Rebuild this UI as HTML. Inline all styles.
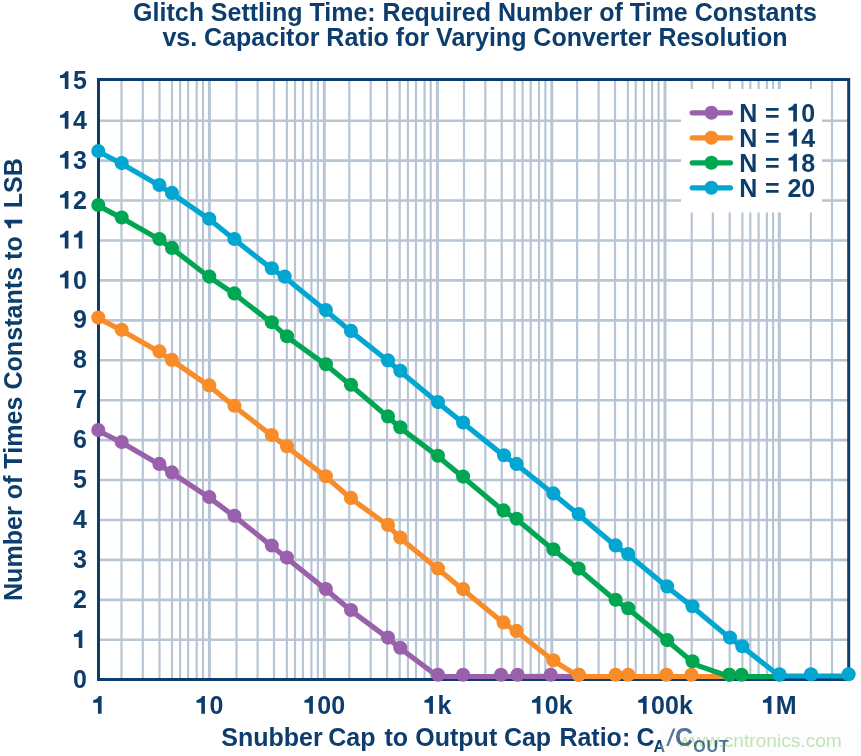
<!DOCTYPE html><html><head><meta charset="utf-8"><style>
html,body{margin:0;padding:0;background:#fff;overflow:hidden;}
svg{display:block;will-change:transform;}
text{font-family:"Liberation Sans",sans-serif;font-weight:bold;fill:#0d3d6c;}
.o{fill:none;} .nk{font-kerning:none;}
</style></head><body>
<svg width="861" height="756" viewBox="0 0 861 756">
<rect width="861" height="756" fill="#fff"/>
<g stroke="#b7c5d4"><line x1="98.5" y1="639.77" x2="848.7" y2="639.77" stroke-width="2.6"/><line x1="98.5" y1="599.84" x2="848.7" y2="599.84" stroke-width="2.6"/><line x1="98.5" y1="559.91" x2="848.7" y2="559.91" stroke-width="2.6"/><line x1="98.5" y1="519.98" x2="848.7" y2="519.98" stroke-width="2.6"/><line x1="98.5" y1="480.05" x2="848.7" y2="480.05" stroke-width="2.6"/><line x1="98.5" y1="440.12" x2="848.7" y2="440.12" stroke-width="2.6"/><line x1="98.5" y1="400.19" x2="848.7" y2="400.19" stroke-width="2.6"/><line x1="98.5" y1="360.26" x2="848.7" y2="360.26" stroke-width="2.6"/><line x1="98.5" y1="320.33" x2="848.7" y2="320.33" stroke-width="2.6"/><line x1="98.5" y1="280.40" x2="848.7" y2="280.40" stroke-width="2.6"/><line x1="98.5" y1="240.47" x2="848.7" y2="240.47" stroke-width="2.6"/><line x1="98.5" y1="200.54" x2="848.7" y2="200.54" stroke-width="2.6"/><line x1="98.5" y1="160.61" x2="848.7" y2="160.61" stroke-width="2.6"/><line x1="98.5" y1="120.68" x2="848.7" y2="120.68" stroke-width="2.6"/><line x1="121.50" y1="79.5" x2="121.50" y2="679.5" stroke-width="2.2"/><line x1="142.80" y1="79.5" x2="142.80" y2="679.5" stroke-width="2.2"/><line x1="159.50" y1="79.5" x2="159.50" y2="679.5" stroke-width="2.2"/><line x1="172.00" y1="79.5" x2="172.00" y2="679.5" stroke-width="2.2"/><line x1="180.10" y1="79.5" x2="180.10" y2="679.5" stroke-width="2.2"/><line x1="188.10" y1="79.5" x2="188.10" y2="679.5" stroke-width="2.2"/><line x1="196.70" y1="79.5" x2="196.70" y2="679.5" stroke-width="2.2"/><line x1="203.00" y1="79.5" x2="203.00" y2="679.5" stroke-width="2.2"/><line x1="236.50" y1="79.5" x2="236.50" y2="679.5" stroke-width="2.2"/><line x1="257.60" y1="79.5" x2="257.60" y2="679.5" stroke-width="2.2"/><line x1="274.00" y1="79.5" x2="274.00" y2="679.5" stroke-width="2.2"/><line x1="286.90" y1="79.5" x2="286.90" y2="679.5" stroke-width="2.2"/><line x1="295.00" y1="79.5" x2="295.00" y2="679.5" stroke-width="2.2"/><line x1="302.90" y1="79.5" x2="302.90" y2="679.5" stroke-width="2.2"/><line x1="311.40" y1="79.5" x2="311.40" y2="679.5" stroke-width="2.2"/><line x1="317.90" y1="79.5" x2="317.90" y2="679.5" stroke-width="2.2"/><line x1="349.30" y1="79.5" x2="349.30" y2="679.5" stroke-width="2.2"/><line x1="370.70" y1="79.5" x2="370.70" y2="679.5" stroke-width="2.2"/><line x1="387.10" y1="79.5" x2="387.10" y2="679.5" stroke-width="2.2"/><line x1="399.70" y1="79.5" x2="399.70" y2="679.5" stroke-width="2.2"/><line x1="407.90" y1="79.5" x2="407.90" y2="679.5" stroke-width="2.2"/><line x1="416.00" y1="79.5" x2="416.00" y2="679.5" stroke-width="2.2"/><line x1="424.60" y1="79.5" x2="424.60" y2="679.5" stroke-width="2.2"/><line x1="430.70" y1="79.5" x2="430.70" y2="679.5" stroke-width="2.2"/><line x1="464.00" y1="79.5" x2="464.00" y2="679.5" stroke-width="2.2"/><line x1="485.30" y1="79.5" x2="485.30" y2="679.5" stroke-width="2.2"/><line x1="501.70" y1="79.5" x2="501.70" y2="679.5" stroke-width="2.2"/><line x1="514.60" y1="79.5" x2="514.60" y2="679.5" stroke-width="2.2"/><line x1="522.60" y1="79.5" x2="522.60" y2="679.5" stroke-width="2.2"/><line x1="530.70" y1="79.5" x2="530.70" y2="679.5" stroke-width="2.2"/><line x1="539.00" y1="79.5" x2="539.00" y2="679.5" stroke-width="2.2"/><line x1="545.40" y1="79.5" x2="545.40" y2="679.5" stroke-width="2.2"/><line x1="577.10" y1="79.5" x2="577.10" y2="679.5" stroke-width="2.2"/><line x1="598.60" y1="79.5" x2="598.60" y2="679.5" stroke-width="2.2"/><line x1="615.00" y1="79.5" x2="615.00" y2="679.5" stroke-width="2.2"/><line x1="627.90" y1="79.5" x2="627.90" y2="679.5" stroke-width="2.2"/><line x1="635.70" y1="79.5" x2="635.70" y2="679.5" stroke-width="2.2"/><line x1="643.90" y1="79.5" x2="643.90" y2="679.5" stroke-width="2.2"/><line x1="652.10" y1="79.5" x2="652.10" y2="679.5" stroke-width="2.2"/><line x1="658.60" y1="79.5" x2="658.60" y2="679.5" stroke-width="2.2"/><line x1="691.70" y1="79.5" x2="691.70" y2="679.5" stroke-width="2.2"/><line x1="712.90" y1="79.5" x2="712.90" y2="679.5" stroke-width="2.2"/><line x1="729.70" y1="79.5" x2="729.70" y2="679.5" stroke-width="2.2"/><line x1="742.40" y1="79.5" x2="742.40" y2="679.5" stroke-width="2.2"/><line x1="750.30" y1="79.5" x2="750.30" y2="679.5" stroke-width="2.2"/><line x1="758.60" y1="79.5" x2="758.60" y2="679.5" stroke-width="2.2"/><line x1="766.90" y1="79.5" x2="766.90" y2="679.5" stroke-width="2.2"/><line x1="773.10" y1="79.5" x2="773.10" y2="679.5" stroke-width="2.2"/><line x1="810.90" y1="79.5" x2="810.90" y2="679.5" stroke-width="2.2"/><line x1="832.00" y1="79.5" x2="832.00" y2="679.5" stroke-width="2.2"/><line x1="209.40" y1="79.5" x2="209.40" y2="679.5" stroke-width="3"/><line x1="324.30" y1="79.5" x2="324.30" y2="679.5" stroke-width="3"/><line x1="437.40" y1="79.5" x2="437.40" y2="679.5" stroke-width="3"/><line x1="551.80" y1="79.5" x2="551.80" y2="679.5" stroke-width="3"/><line x1="665.00" y1="79.5" x2="665.00" y2="679.5" stroke-width="3"/><line x1="779.30" y1="79.5" x2="779.30" y2="679.5" stroke-width="3"/></g>
<rect x="681" y="89" width="141" height="123.5" fill="#fff"/>
<rect x="98.5" y="79.5" width="750.2" height="600.0" fill="none" stroke="#0d3d6c" stroke-width="3"/>
<polyline points="98.30,430.70 121.70,442.60 159.40,464.50 172.00,473.00 209.30,497.60 234.40,516.40 271.80,546.10 286.90,558.20 325.90,589.60 351.00,610.60 388.00,638.20 400.30,648.40 438.00,676.50 463.10,676.50 501.00,676.50 517.50,676.50 550.70,676.40 578.70,676.50" fill="none" stroke="#9960ab" stroke-width="5.2" stroke-linejoin="round" stroke-linecap="round"/><circle cx="98.30" cy="430.10" r="7.05" fill="#9960ab"/><circle cx="121.70" cy="442.00" r="7.05" fill="#9960ab"/><circle cx="159.40" cy="463.90" r="7.05" fill="#9960ab"/><circle cx="172.00" cy="472.40" r="7.05" fill="#9960ab"/><circle cx="209.30" cy="497.00" r="7.05" fill="#9960ab"/><circle cx="234.40" cy="515.80" r="7.05" fill="#9960ab"/><circle cx="271.80" cy="545.50" r="7.05" fill="#9960ab"/><circle cx="286.90" cy="557.60" r="7.05" fill="#9960ab"/><circle cx="325.90" cy="589.00" r="7.05" fill="#9960ab"/><circle cx="351.00" cy="610.00" r="7.05" fill="#9960ab"/><circle cx="388.00" cy="637.60" r="7.05" fill="#9960ab"/><circle cx="400.30" cy="647.80" r="7.05" fill="#9960ab"/><circle cx="438.00" cy="674.80" r="7.05" fill="#9960ab"/><circle cx="463.10" cy="674.80" r="7.05" fill="#9960ab"/><circle cx="501.00" cy="674.80" r="7.05" fill="#9960ab"/><circle cx="517.50" cy="674.80" r="7.05" fill="#9960ab"/><circle cx="550.70" cy="674.70" r="7.05" fill="#9960ab"/><circle cx="578.70" cy="674.80" r="7.05" fill="#9960ab"/>
<polyline points="98.30,318.20 121.70,330.40 159.40,352.00 172.00,360.50 209.30,386.00 234.40,406.40 271.80,435.60 287.00,446.90 325.90,476.90 351.00,498.50 388.00,525.50 400.30,538.20 438.00,569.00 463.10,589.70 503.50,623.00 516.60,631.50 553.40,660.80 578.70,676.50 615.60,676.50 628.20,676.50 666.40,676.50 691.40,676.50 729.30,676.50" fill="none" stroke="#f78c29" stroke-width="5.2" stroke-linejoin="round" stroke-linecap="round"/><circle cx="98.30" cy="317.60" r="7.05" fill="#f78c29"/><circle cx="121.70" cy="329.80" r="7.05" fill="#f78c29"/><circle cx="159.40" cy="351.40" r="7.05" fill="#f78c29"/><circle cx="172.00" cy="359.90" r="7.05" fill="#f78c29"/><circle cx="209.30" cy="385.40" r="7.05" fill="#f78c29"/><circle cx="234.40" cy="405.80" r="7.05" fill="#f78c29"/><circle cx="271.80" cy="435.00" r="7.05" fill="#f78c29"/><circle cx="287.00" cy="446.30" r="7.05" fill="#f78c29"/><circle cx="325.90" cy="476.30" r="7.05" fill="#f78c29"/><circle cx="351.00" cy="497.90" r="7.05" fill="#f78c29"/><circle cx="388.00" cy="524.90" r="7.05" fill="#f78c29"/><circle cx="400.30" cy="537.60" r="7.05" fill="#f78c29"/><circle cx="438.00" cy="568.40" r="7.05" fill="#f78c29"/><circle cx="463.10" cy="589.10" r="7.05" fill="#f78c29"/><circle cx="503.50" cy="622.40" r="7.05" fill="#f78c29"/><circle cx="516.60" cy="630.90" r="7.05" fill="#f78c29"/><circle cx="553.40" cy="660.20" r="7.05" fill="#f78c29"/><circle cx="578.70" cy="674.80" r="7.05" fill="#f78c29"/><circle cx="615.60" cy="674.80" r="7.05" fill="#f78c29"/><circle cx="628.20" cy="674.80" r="7.05" fill="#f78c29"/><circle cx="666.40" cy="674.80" r="7.05" fill="#f78c29"/><circle cx="691.40" cy="674.80" r="7.05" fill="#f78c29"/><circle cx="729.30" cy="674.80" r="7.05" fill="#f78c29"/>
<polyline points="98.30,205.60 121.70,218.10 159.40,239.60 172.00,248.50 209.30,277.20 234.40,294.00 271.80,322.90 287.00,336.80 325.90,364.80 351.00,385.40 388.00,417.00 400.30,427.90 438.00,456.40 463.10,477.20 503.50,511.00 516.60,519.30 553.40,549.90 578.70,569.20 615.60,600.40 628.20,608.80 667.20,640.70 692.50,661.90 698.60,665.90 729.30,676.50 741.60,676.50 779.40,676.50" fill="none" stroke="#00a651" stroke-width="5.2" stroke-linejoin="round" stroke-linecap="round"/><circle cx="98.30" cy="205.00" r="7.05" fill="#00a651"/><circle cx="121.70" cy="217.50" r="7.05" fill="#00a651"/><circle cx="159.40" cy="239.00" r="7.05" fill="#00a651"/><circle cx="172.00" cy="247.90" r="7.05" fill="#00a651"/><circle cx="209.30" cy="276.60" r="7.05" fill="#00a651"/><circle cx="234.40" cy="293.40" r="7.05" fill="#00a651"/><circle cx="271.80" cy="322.30" r="7.05" fill="#00a651"/><circle cx="287.00" cy="336.20" r="7.05" fill="#00a651"/><circle cx="325.90" cy="364.20" r="7.05" fill="#00a651"/><circle cx="351.00" cy="384.80" r="7.05" fill="#00a651"/><circle cx="388.00" cy="416.40" r="7.05" fill="#00a651"/><circle cx="400.30" cy="427.30" r="7.05" fill="#00a651"/><circle cx="438.00" cy="455.80" r="7.05" fill="#00a651"/><circle cx="463.10" cy="476.60" r="7.05" fill="#00a651"/><circle cx="503.50" cy="510.40" r="7.05" fill="#00a651"/><circle cx="516.60" cy="518.70" r="7.05" fill="#00a651"/><circle cx="553.40" cy="549.30" r="7.05" fill="#00a651"/><circle cx="578.70" cy="568.60" r="7.05" fill="#00a651"/><circle cx="615.60" cy="599.80" r="7.05" fill="#00a651"/><circle cx="628.20" cy="608.20" r="7.05" fill="#00a651"/><circle cx="667.20" cy="640.10" r="7.05" fill="#00a651"/><circle cx="692.50" cy="661.30" r="7.05" fill="#00a651"/><circle cx="729.30" cy="674.80" r="7.05" fill="#00a651"/><circle cx="741.60" cy="674.80" r="7.05" fill="#00a651"/><circle cx="779.40" cy="674.80" r="7.05" fill="#00a651"/>
<polyline points="98.30,151.55 121.70,163.70 159.40,185.60 172.00,193.50 209.30,219.30 234.40,239.60 271.80,268.90 284.70,277.20 325.90,310.70 351.00,331.50 388.00,361.00 400.30,371.40 438.00,402.70 463.10,423.10 504.00,455.90 516.60,464.50 553.40,494.00 578.70,514.70 615.60,546.00 628.20,554.70 667.20,587.00 692.50,606.90 730.00,638.20 742.30,646.80 779.40,676.00 811.00,676.00 848.60,676.00" fill="none" stroke="#03a5d1" stroke-width="5.2" stroke-linejoin="round" stroke-linecap="round"/><circle cx="98.30" cy="150.95" r="7.05" fill="#03a5d1"/><circle cx="121.70" cy="163.10" r="7.05" fill="#03a5d1"/><circle cx="159.40" cy="185.00" r="7.05" fill="#03a5d1"/><circle cx="172.00" cy="192.90" r="7.05" fill="#03a5d1"/><circle cx="209.30" cy="218.70" r="7.05" fill="#03a5d1"/><circle cx="234.40" cy="239.00" r="7.05" fill="#03a5d1"/><circle cx="271.80" cy="268.30" r="7.05" fill="#03a5d1"/><circle cx="284.70" cy="276.60" r="7.05" fill="#03a5d1"/><circle cx="325.90" cy="310.10" r="7.05" fill="#03a5d1"/><circle cx="351.00" cy="330.90" r="7.05" fill="#03a5d1"/><circle cx="388.00" cy="360.40" r="7.05" fill="#03a5d1"/><circle cx="400.30" cy="370.80" r="7.05" fill="#03a5d1"/><circle cx="438.00" cy="402.10" r="7.05" fill="#03a5d1"/><circle cx="463.10" cy="422.50" r="7.05" fill="#03a5d1"/><circle cx="504.00" cy="455.30" r="7.05" fill="#03a5d1"/><circle cx="516.60" cy="463.90" r="7.05" fill="#03a5d1"/><circle cx="553.40" cy="493.40" r="7.05" fill="#03a5d1"/><circle cx="578.70" cy="514.10" r="7.05" fill="#03a5d1"/><circle cx="615.60" cy="545.40" r="7.05" fill="#03a5d1"/><circle cx="628.20" cy="554.10" r="7.05" fill="#03a5d1"/><circle cx="667.20" cy="586.40" r="7.05" fill="#03a5d1"/><circle cx="692.50" cy="606.30" r="7.05" fill="#03a5d1"/><circle cx="730.00" cy="637.60" r="7.05" fill="#03a5d1"/><circle cx="742.30" cy="646.20" r="7.05" fill="#03a5d1"/><circle cx="779.40" cy="674.30" r="7.05" fill="#03a5d1"/><circle cx="811.00" cy="674.30" r="7.05" fill="#03a5d1"/><circle cx="848.60" cy="674.30" r="7.05" fill="#03a5d1"/>
<line x1="692.2" y1="112.8" x2="730.5" y2="112.8" stroke="#9960ab" stroke-width="5.2" stroke-linecap="round"/>
<circle cx="711.4" cy="112.8" r="7.0" fill="#9960ab"/>
<text x="739.3" y="121.5" font-size="25" word-spacing="0.8">N = <tspan class="o">1</tspan>0</text>
<line x1="692.2" y1="137.8" x2="730.5" y2="137.8" stroke="#f78c29" stroke-width="5.2" stroke-linecap="round"/>
<circle cx="711.4" cy="137.8" r="7.0" fill="#f78c29"/>
<text x="739.3" y="146.5" font-size="25" word-spacing="0.8">N = <tspan class="o">1</tspan>4</text>
<line x1="692.2" y1="162.8" x2="730.5" y2="162.8" stroke="#00a651" stroke-width="5.2" stroke-linecap="round"/>
<circle cx="711.4" cy="162.8" r="7.0" fill="#00a651"/>
<text x="739.3" y="171.5" font-size="25" word-spacing="0.8">N = <tspan class="o">1</tspan>8</text>
<line x1="692.2" y1="187.8" x2="730.5" y2="187.8" stroke="#03a5d1" stroke-width="5.2" stroke-linecap="round"/>
<circle cx="711.4" cy="187.8" r="7.0" fill="#03a5d1"/>
<text x="739.3" y="196.5" font-size="25" word-spacing="0.8">N = 20</text>
<text class="nk" x="86.8" y="687.85" font-size="25" text-anchor="end">0</text>
<text class="nk" x="86.8" y="647.92" font-size="25" text-anchor="end"><tspan class="o">1</tspan></text>
<text class="nk" x="86.8" y="607.99" font-size="25" text-anchor="end">2</text>
<text class="nk" x="86.8" y="568.06" font-size="25" text-anchor="end">3</text>
<text class="nk" x="86.8" y="528.13" font-size="25" text-anchor="end">4</text>
<text class="nk" x="86.8" y="488.20" font-size="25" text-anchor="end">5</text>
<text class="nk" x="86.8" y="448.27" font-size="25" text-anchor="end">6</text>
<text class="nk" x="86.8" y="408.34" font-size="25" text-anchor="end">7</text>
<text class="nk" x="86.8" y="368.41" font-size="25" text-anchor="end">8</text>
<text class="nk" x="86.8" y="328.48" font-size="25" text-anchor="end">9</text>
<text class="nk" x="86.8" y="288.55" font-size="25" text-anchor="end"><tspan class="o">1</tspan>0</text>
<text class="nk" x="86.8" y="248.62" font-size="25" text-anchor="end"><tspan class="o">1</tspan><tspan class="o">1</tspan></text>
<text class="nk" x="86.8" y="208.69" font-size="25" text-anchor="end"><tspan class="o">1</tspan>2</text>
<text class="nk" x="86.8" y="168.76" font-size="25" text-anchor="end"><tspan class="o">1</tspan>3</text>
<text class="nk" x="86.8" y="128.83" font-size="25" text-anchor="end"><tspan class="o">1</tspan>4</text>
<text class="nk" x="86.8" y="88.90" font-size="25" text-anchor="end"><tspan class="o">1</tspan>5</text>
<text x="99.1" y="713.8" font-size="25" text-anchor="middle"><tspan class="o">1</tspan></text>
<text x="209.4" y="713.8" font-size="25" text-anchor="middle"><tspan class="o">1</tspan>0</text>
<text x="324.3" y="713.8" font-size="25" text-anchor="middle"><tspan class="o">1</tspan>00</text>
<text x="437.4" y="713.8" font-size="25" text-anchor="middle"><tspan class="o">1</tspan>k</text>
<text x="551.8" y="713.8" font-size="25" text-anchor="middle"><tspan class="o">1</tspan>0k</text>
<text x="665.0" y="713.8" font-size="25" text-anchor="middle"><tspan class="o">1</tspan>00k</text>
<text x="779.3" y="713.8" font-size="25" text-anchor="middle"><tspan class="o">1</tspan>M</text>
<text x="475" y="20.7" font-size="25" text-anchor="middle">Glitch Settling Time: Required Number of Time Constants</text>
<text x="475" y="45.7" font-size="25" text-anchor="middle">vs. Capacitor Ratio for Varying Converter Resolution</text>
<g transform="translate(22.2,379.6) rotate(-90)"><text x="0" y="0" font-size="25.1" text-anchor="middle">Number of Times Constants to <tspan class="o">1</tspan> LSB</text><path transform="translate(150.34,0.00) scale(1.004)" d="M5.8 0L9.45 0L9.45 -17.75L6.7 -17.75Q5.9 -14.9 1.0 -13.6L1.0 -11L5.8 -11Z" fill="#0d3d6c"/></g>
<text class="xt" x="221.3" y="745.9" font-size="25">Snubber</text>
<text class="xt" x="328.2" y="745.9" font-size="25">Cap</text>
<text class="xt" x="384.4" y="745.9" font-size="25">to</text>
<text class="xt" x="415.3" y="745.9" font-size="25">Output</text>
<text class="xt" x="503.9" y="745.9" font-size="25">Cap</text>
<text class="xt" x="559.4" y="745.9" font-size="25">Ratio:</text>
<text class="xt" x="636.4" y="745.9" font-size="25">C</text>
<text x="653.6" y="751.5" font-size="16">A</text>
<path d="M666.2 745.9L668.6 745.9L675.4 728.6L673 728.6Z" fill="#0d3d6c"/>
<text x="675" y="745.9" font-size="25">C</text>
<text x="693.2" y="751.5" font-size="16" letter-spacing="0.9">OUT</text>
<path transform="translate(787.46,121.50) scale(1.000)" d="M5.8 0L9.45 0L9.45 -17.75L6.7 -17.75Q5.9 -14.9 1.0 -13.6L1.0 -11L5.8 -11Z" fill="#0d3d6c"/><path transform="translate(787.46,146.50) scale(1.000)" d="M5.8 0L9.45 0L9.45 -17.75L6.7 -17.75Q5.9 -14.9 1.0 -13.6L1.0 -11L5.8 -11Z" fill="#0d3d6c"/><path transform="translate(787.46,171.50) scale(1.000)" d="M5.8 0L9.45 0L9.45 -17.75L6.7 -17.75Q5.9 -14.9 1.0 -13.6L1.0 -11L5.8 -11Z" fill="#0d3d6c"/><path transform="translate(72.89,647.92) scale(1.000)" d="M5.8 0L9.45 0L9.45 -17.75L6.7 -17.75Q5.9 -14.9 1.0 -13.6L1.0 -11L5.8 -11Z" fill="#0d3d6c"/><path transform="translate(58.99,288.55) scale(1.000)" d="M5.8 0L9.45 0L9.45 -17.75L6.7 -17.75Q5.9 -14.9 1.0 -13.6L1.0 -11L5.8 -11Z" fill="#0d3d6c"/><path transform="translate(58.99,248.62) scale(1.000)" d="M5.8 0L9.45 0L9.45 -17.75L6.7 -17.75Q5.9 -14.9 1.0 -13.6L1.0 -11L5.8 -11Z" fill="#0d3d6c"/><path transform="translate(72.89,248.62) scale(1.000)" d="M5.8 0L9.45 0L9.45 -17.75L6.7 -17.75Q5.9 -14.9 1.0 -13.6L1.0 -11L5.8 -11Z" fill="#0d3d6c"/><path transform="translate(58.99,208.69) scale(1.000)" d="M5.8 0L9.45 0L9.45 -17.75L6.7 -17.75Q5.9 -14.9 1.0 -13.6L1.0 -11L5.8 -11Z" fill="#0d3d6c"/><path transform="translate(58.99,168.76) scale(1.000)" d="M5.8 0L9.45 0L9.45 -17.75L6.7 -17.75Q5.9 -14.9 1.0 -13.6L1.0 -11L5.8 -11Z" fill="#0d3d6c"/><path transform="translate(58.99,128.83) scale(1.000)" d="M5.8 0L9.45 0L9.45 -17.75L6.7 -17.75Q5.9 -14.9 1.0 -13.6L1.0 -11L5.8 -11Z" fill="#0d3d6c"/><path transform="translate(58.99,88.90) scale(1.000)" d="M5.8 0L9.45 0L9.45 -17.75L6.7 -17.75Q5.9 -14.9 1.0 -13.6L1.0 -11L5.8 -11Z" fill="#0d3d6c"/><path transform="translate(92.15,713.80) scale(1.000)" d="M5.8 0L9.45 0L9.45 -17.75L6.7 -17.75Q5.9 -14.9 1.0 -13.6L1.0 -11L5.8 -11Z" fill="#0d3d6c"/><path transform="translate(195.49,713.80) scale(1.000)" d="M5.8 0L9.45 0L9.45 -17.75L6.7 -17.75Q5.9 -14.9 1.0 -13.6L1.0 -11L5.8 -11Z" fill="#0d3d6c"/><path transform="translate(303.44,713.80) scale(1.000)" d="M5.8 0L9.45 0L9.45 -17.75L6.7 -17.75Q5.9 -14.9 1.0 -13.6L1.0 -11L5.8 -11Z" fill="#0d3d6c"/><path transform="translate(423.49,713.80) scale(1.000)" d="M5.8 0L9.45 0L9.45 -17.75L6.7 -17.75Q5.9 -14.9 1.0 -13.6L1.0 -11L5.8 -11Z" fill="#0d3d6c"/><path transform="translate(530.94,713.80) scale(1.000)" d="M5.8 0L9.45 0L9.45 -17.75L6.7 -17.75Q5.9 -14.9 1.0 -13.6L1.0 -11L5.8 -11Z" fill="#0d3d6c"/><path transform="translate(637.19,713.80) scale(1.000)" d="M5.8 0L9.45 0L9.45 -17.75L6.7 -17.75Q5.9 -14.9 1.0 -13.6L1.0 -11L5.8 -11Z" fill="#0d3d6c"/><path transform="translate(761.93,713.80) scale(1.000)" d="M5.8 0L9.45 0L9.45 -17.75L6.7 -17.75Q5.9 -14.9 1.0 -13.6L1.0 -11L5.8 -11Z" fill="#0d3d6c"/>
<rect x="661" y="726" width="200" height="30" fill="#fafafa" fill-opacity="0.3"/>
<text x="678" y="747.2" font-size="19.15" style="font-weight:normal;fill:#c4e6b6;mix-blend-mode:multiply">www.cntronics.com</text>
</svg></body></html>
